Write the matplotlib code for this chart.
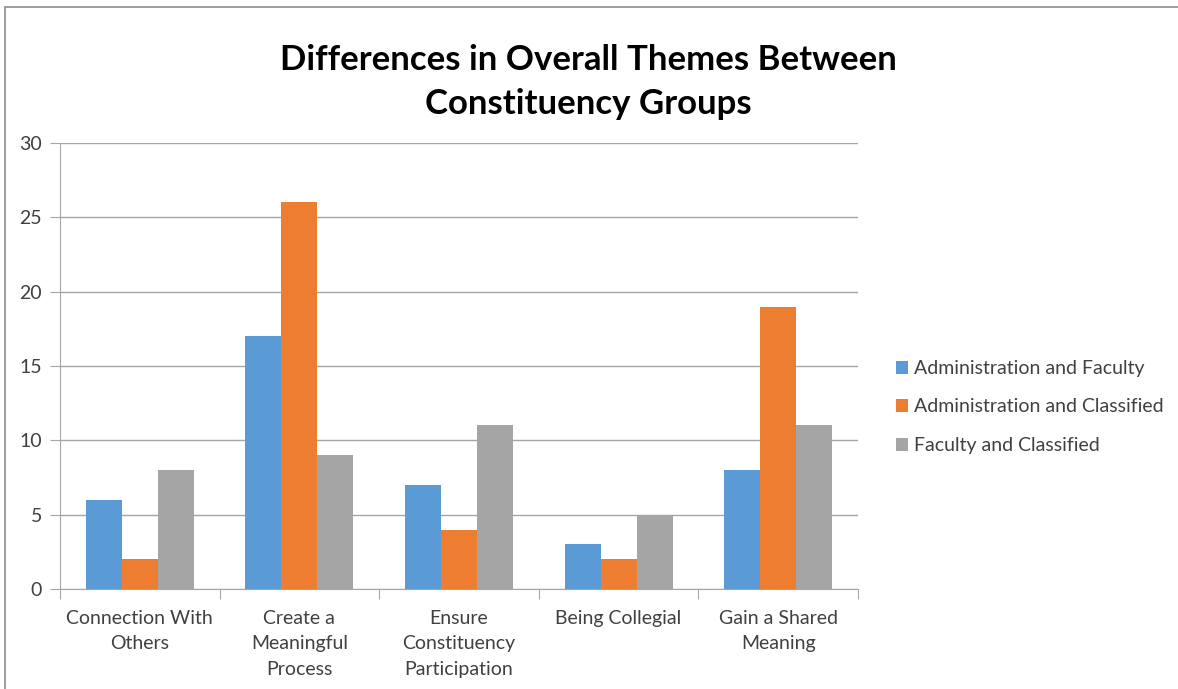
import matplotlib.pyplot as plt
from matplotlib.patches import Rectangle
import numpy as np

categories = ['Connection With\nOthers', 'Create a\nMeaningful\nProcess',
              'Ensure\nConstituency\nParticipation', 'Being Collegial',
              'Gain a Shared\nMeaning']
series_names = ['Administration and Faculty', 'Administration and Classified',
                'Faculty and Classified']
admin_faculty = [6, 17, 7, 3, 8]
admin_classified = [2, 26, 4, 2, 19]
faculty_classified = [8, 9, 11, 5, 11]
colors = ['#5B9BD5', '#ED7D31', '#A5A5A5']

plt.rcParams['font.family'] = ['Lato', 'DejaVu Sans']

fig = plt.figure(figsize=(11.78, 6.89), dpi=100)
ax = fig.add_axes([60/1178, 1-589/689, 798/1178, 446/689])

x = np.arange(len(categories))
w = 0.2256
for i, vals in enumerate([admin_faculty, admin_classified, faculty_classified]):
    ax.bar(x + (i-1)*w, vals, w, color=colors[i], label=series_names[i], zorder=3)

ax.set_xlim(-0.5, len(categories)-0.5)
ax.set_ylim(0, 30)
ax.set_yticks(range(0, 31, 5))
ax.yaxis.grid(True, color='#A6A6A6', linewidth=1, zorder=0)
ax.tick_params(axis='y', length=7, color='#A6A6A6', labelsize=14, pad=6,
               labelcolor='#404040')
ax.set_xticks(np.arange(-0.5, len(categories), 1), minor=False)
ax.set_xticklabels([])
ax.set_xticks(x, minor=True)
ax.set_xticklabels(categories, minor=True, fontsize=14, color='#404040',
                   linespacing=1.6)
ax.tick_params(axis='x', which='major', length=7, color='#A6A6A6')
ax.tick_params(axis='x', which='minor', length=0, pad=15)
for s in ['top', 'right']:
    ax.spines[s].set_visible(False)
for s in ['left', 'bottom']:
    ax.spines[s].set_color('#A6A6A6')

fig.text(588/1178, 1-82/689, 'Differences in Overall Themes Between\nConstituency Groups',
         ha='center', va='center', fontsize=25, fontweight='bold', linespacing=1.5)

ax.legend(loc='center left', bbox_to_anchor=(878/1178, 1-407/689),
          bbox_transform=fig.transFigure, frameon=False, fontsize=14,
          handlelength=0.65, handleheight=0.65, handletextpad=0.3,
          labelspacing=1.1, labelcolor='#404040')

fig.patches.append(Rectangle((5/1178, -0.1), 1.2, 1-7/689+0.1, transform=fig.transFigure,
                             fill=False, edgecolor='#8C8C8C', linewidth=1.2))

fig.savefig('out.png', dpi=100)
